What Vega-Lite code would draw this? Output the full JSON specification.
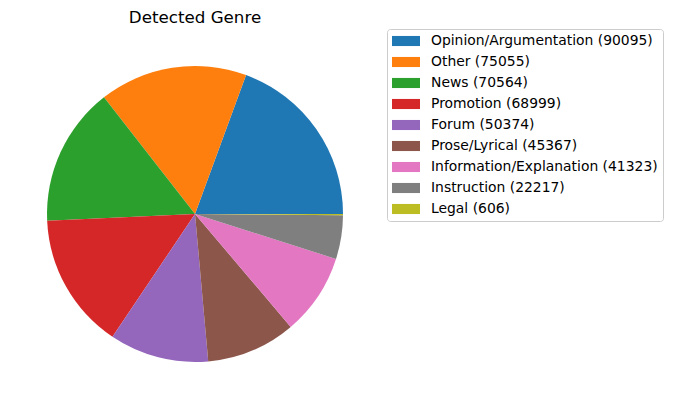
{
  "$schema": "https://vega.github.io/schema/vega-lite/v6.json",
  "width": 390,
  "height": 388,
  "autosize": {"type": "none"},
  "padding": {"left": 0, "top": 20, "right": 283, "bottom": 1},
  "background": "white",
  "title": {"text": "Detected Genre", "font": "DejaVu Sans", "fontSize": 16.7, "fontWeight": "normal", "color": "#000000", "anchor": "middle", "baseline": "alphabetic", "offset": -20},
  "data": {"values": [
    {"idx": 1, "genre": "Opinion/Argumentation", "count": 90095, "label": "Opinion/Argumentation (90095)"},
    {"idx": 2, "genre": "Other", "count": 75055, "label": "Other (75055)"},
    {"idx": 3, "genre": "News", "count": 70564, "label": "News (70564)"},
    {"idx": 4, "genre": "Promotion", "count": 68999, "label": "Promotion (68999)"},
    {"idx": 5, "genre": "Forum", "count": 50374, "label": "Forum (50374)"},
    {"idx": 6, "genre": "Prose/Lyrical", "count": 45367, "label": "Prose/Lyrical (45367)"},
    {"idx": 7, "genre": "Information/Explanation", "count": 41323, "label": "Information/Explanation (41323)"},
    {"idx": 8, "genre": "Instruction", "count": 22217, "label": "Instruction (22217)"},
    {"idx": 9, "genre": "Legal", "count": 606, "label": "Legal (606)"}
  ]},
  "mark": {"type": "arc", "outerRadius": 148},
  "encoding": {
    "theta": {"field": "count", "type": "quantitative", "stack": true, "scale": {"range": [1.5707963, -4.712389]}},
    "order": {"field": "idx", "type": "quantitative", "sort": "ascending"},
    "color": {
      "field": "label",
      "type": "nominal",
      "scale": {
        "domain": ["Opinion/Argumentation (90095)", "Other (75055)", "News (70564)", "Promotion (68999)", "Forum (50374)", "Prose/Lyrical (45367)", "Information/Explanation (41323)", "Instruction (22217)", "Legal (606)"],
        "range": ["#1f77b4", "#ff7f0e", "#2ca02c", "#d62728", "#9467bd", "#8c564b", "#e377c2", "#7f7f7f", "#bcbd22"]
      },
      "legend": {
        "title": null,
        "orient": "none",
        "legendX": 387,
        "legendY": 9,
        "symbolType": "M-1,-0.72H3V0.72H-1Z",
        "symbolSize": 196,
        "symbolStrokeWidth": 0,
        "symbolOpacity": 1,
        "labelFont": "DejaVu Sans",
        "labelFontSize": 13.9,
        "labelColor": "#000000",
        "labelOffset": 25,
        "labelLimit": 400,
        "rowPadding": 7,
        "padding": 5,
        "fillColor": "white",
        "strokeColor": "#cccccc",
        "cornerRadius": 3
      }
    }
  },
  "config": {"view": {"stroke": null}}
}
